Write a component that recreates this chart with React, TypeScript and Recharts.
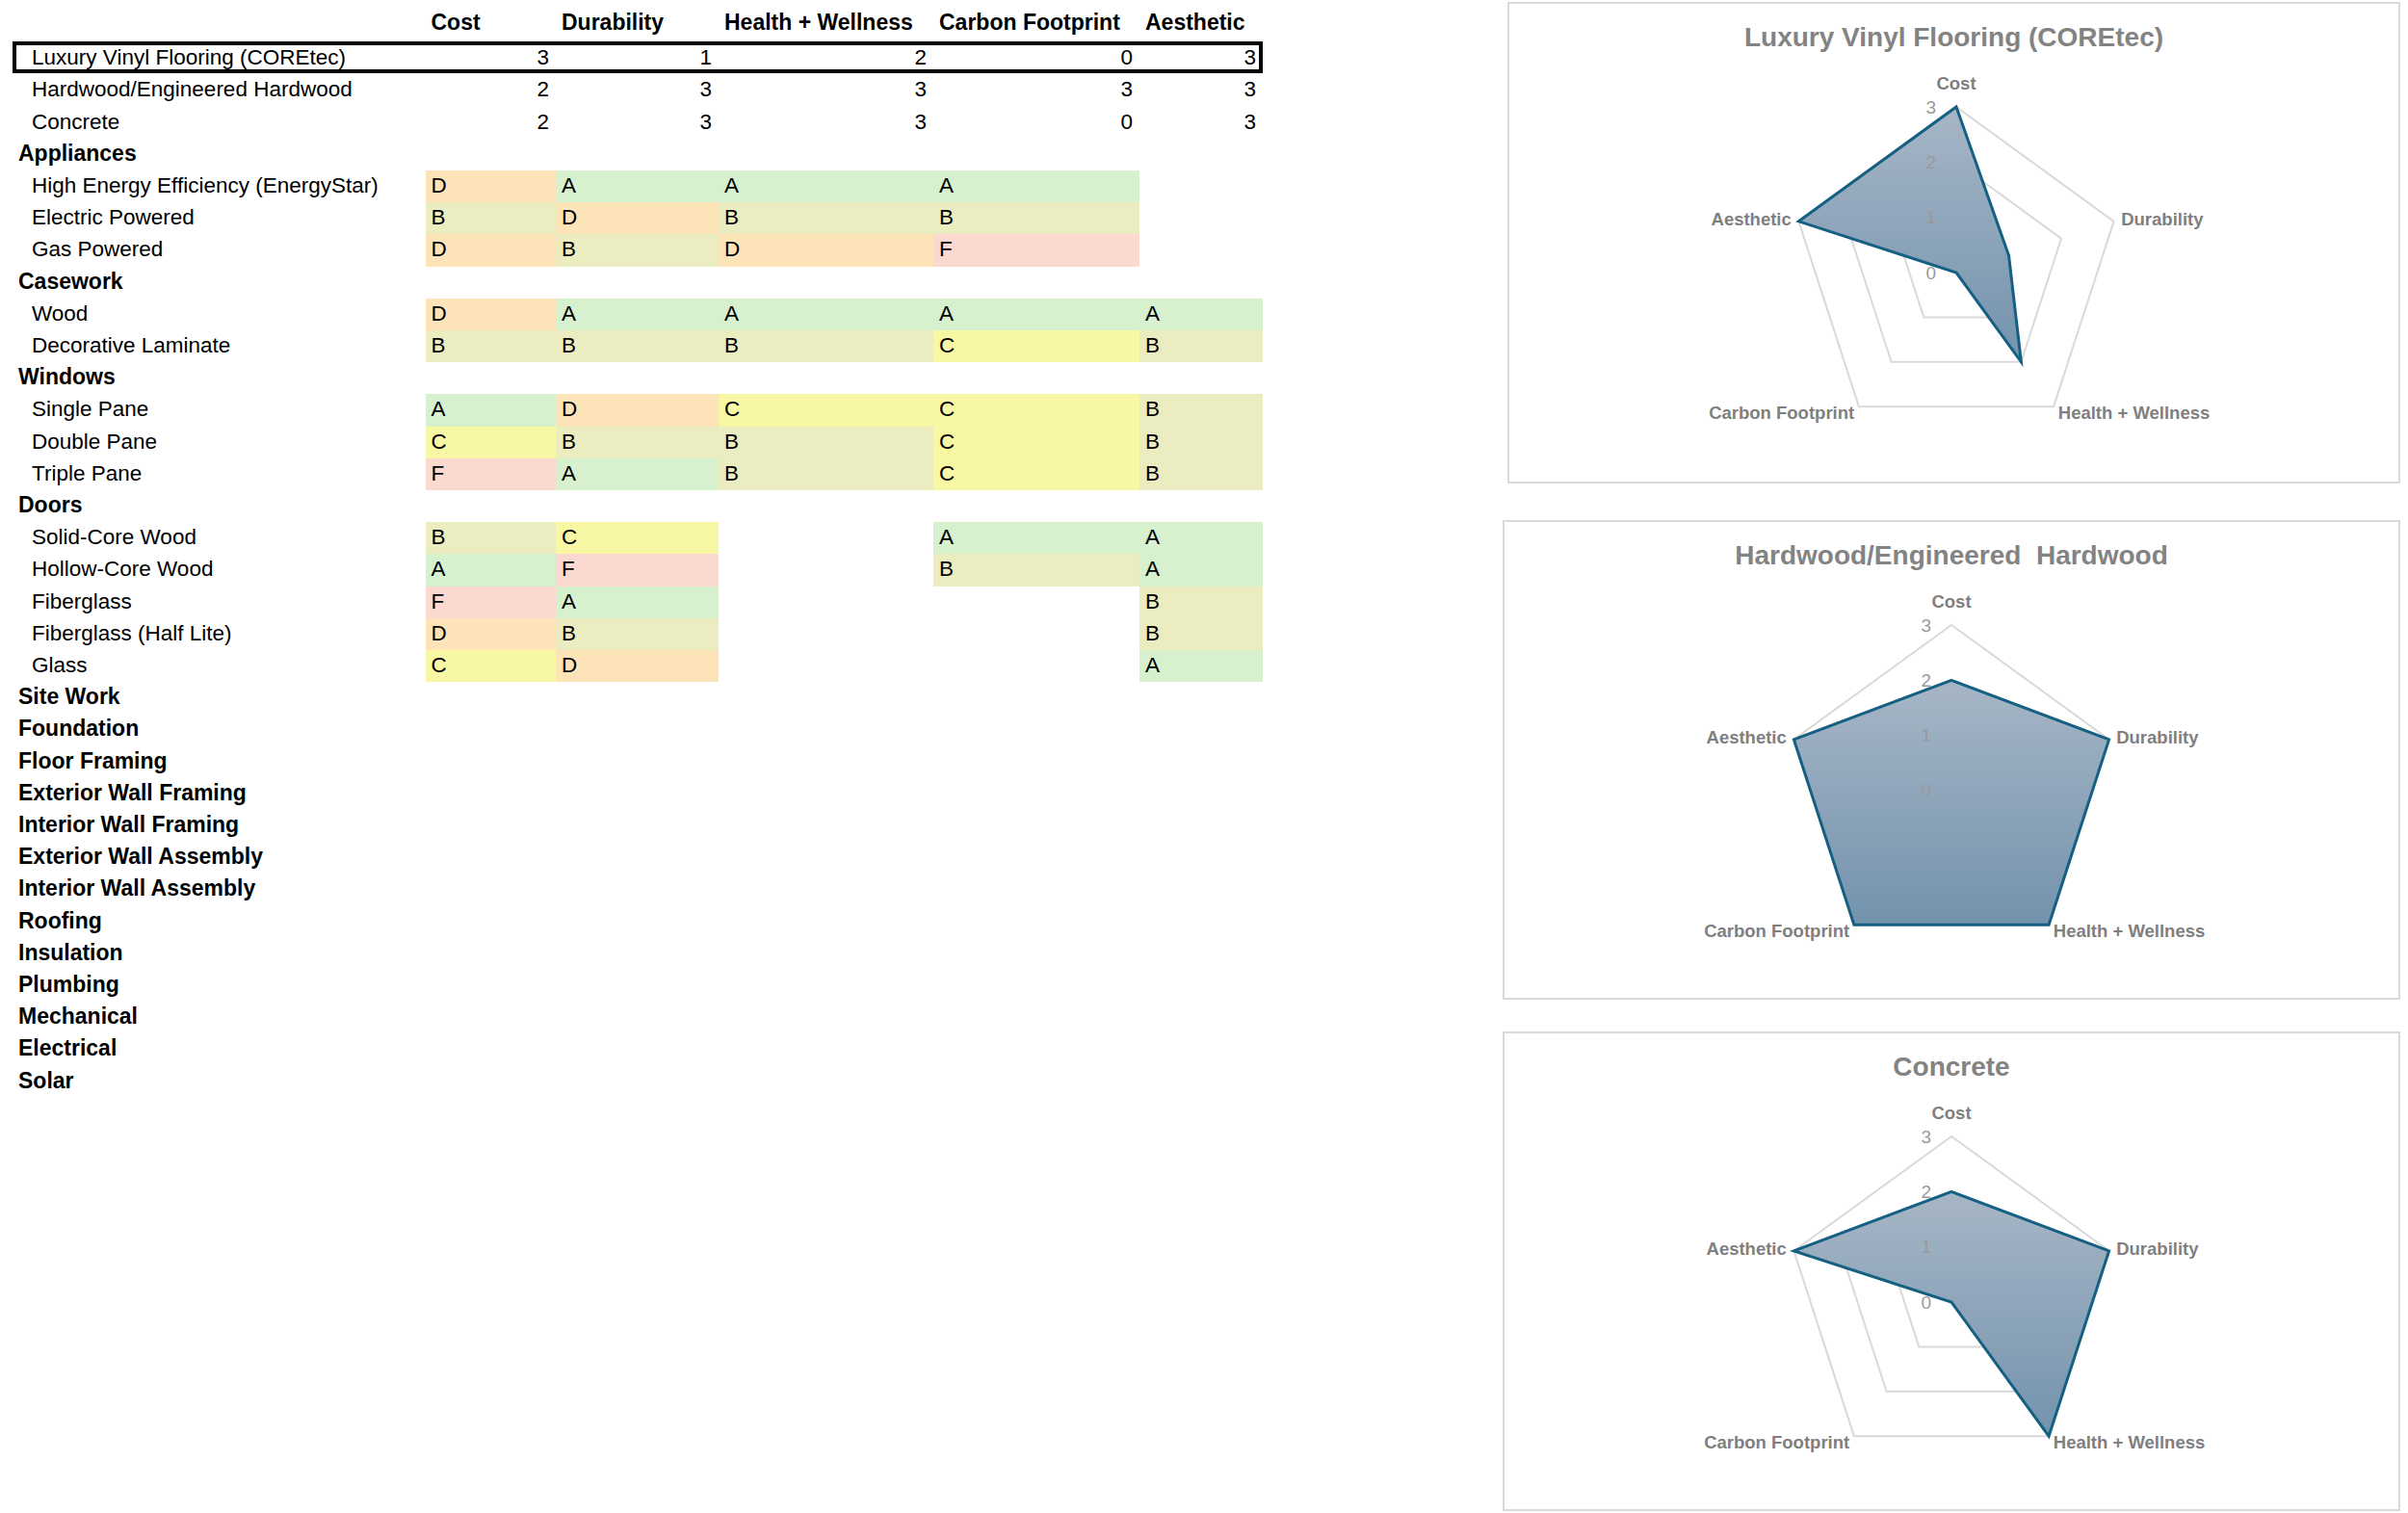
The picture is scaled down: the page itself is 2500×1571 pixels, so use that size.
import { RadarChart, Radar, PolarGrid, PolarAngleAxis, PolarRadiusAxis } from 'recharts';

// criteria shared by the table columns and the radar axes
const criteria = ['Cost', 'Durability', 'Health + Wellness', 'Carbon Footprint', 'Aesthetic'];

const flooringNames = ['Luxury Vinyl Flooring (COREtec)', 'Hardwood/Engineered Hardwood', 'Concrete'];
const lvfScores = [3, 1, 2, 0, 3];
const hardwoodScores = [2, 3, 3, 3, 3];
const concreteScores = [2, 3, 3, 0, 3];
const flooringScores = [lvfScores, hardwoodScores, concreteScores];

const chartTitles = ['Luxury Vinyl Flooring (COREtec)', 'Hardwood/Engineered  Hardwood', 'Concrete'];

const applianceItems = ['High Energy Efficiency (EnergyStar)', 'Electric Powered', 'Gas Powered'];
const applianceGrades = [
  ['D', 'A', 'A', 'A', ''],
  ['B', 'D', 'B', 'B', ''],
  ['D', 'B', 'D', 'F', ''],
];

const caseworkItems = ['Wood', 'Decorative Laminate'];
const caseworkGrades = [
  ['D', 'A', 'A', 'A', 'A'],
  ['B', 'B', 'B', 'C', 'B'],
];

const windowItems = ['Single Pane', 'Double Pane', 'Triple Pane'];
const windowGrades = [
  ['A', 'D', 'C', 'C', 'B'],
  ['C', 'B', 'B', 'C', 'B'],
  ['F', 'A', 'B', 'C', 'B'],
];

const doorItems = ['Solid-Core Wood', 'Hollow-Core Wood', 'Fiberglass', 'Fiberglass (Half Lite)', 'Glass'];
const doorGrades = [
  ['B', 'C', '', 'A', 'A'],
  ['A', 'F', '', 'B', 'A'],
  ['F', 'A', '', '', 'B'],
  ['D', 'B', '', '', 'B'],
  ['C', 'D', '', '', 'A'],
];

const emptyGroups = [
  'Site Work', 'Foundation', 'Floor Framing', 'Exterior Wall Framing', 'Interior Wall Framing',
  'Exterior Wall Assembly', 'Interior Wall Assembly', 'Roofing', 'Insulation', 'Plumbing',
  'Mechanical', 'Electrical', 'Solar',
];

const gradeColors: Record<string, string> = {
  A: '#d7f1cf',
  B: '#ebedc1',
  C: '#f8f7a3',
  D: '#fde3b8',
  F: '#fbd9d0',
};

const FONT = '"Liberation Sans", Arial, sans-serif';
const ROW_TOP = 10;
const ROW_H = 33.2;
const COL_X = [441.5, 577, 746, 969, 1183, 1311];

type Row =
  | { kind: 'score'; label: string; values: number[] }
  | { kind: 'group'; label: string }
  | { kind: 'item'; label: string; grades: string[] };

function buildRows(): Row[] {
  const rows: Row[] = [];
  flooringNames.forEach((n, i) => rows.push({ kind: 'score', label: n, values: flooringScores[i] }));
  const groups: [string, string[], string[][]][] = [
    ['Appliances', applianceItems, applianceGrades],
    ['Casework', caseworkItems, caseworkGrades],
    ['Windows', windowItems, windowGrades],
    ['Doors', doorItems, doorGrades],
  ];
  groups.forEach(([name, items, grades]) => {
    rows.push({ kind: 'group', label: name });
    items.forEach((it, i) => rows.push({ kind: 'item', label: it, grades: grades[i] }));
  });
  emptyGroups.forEach((g) => rows.push({ kind: 'group', label: g }));
  return rows;
}

function Table() {
  const rows = buildRows();
  return (
    <div style={{ position: 'absolute', left: 0, top: 0, fontFamily: FONT, color: '#000' }}>
      {criteria.map((c, j) => (
        <div
          key={c}
          style={{ position: 'absolute', left: COL_X[j] + 6, top: 3, height: 40, lineHeight: '40px', fontSize: 23, fontWeight: 'bold', whiteSpace: 'nowrap' }}
        >
          {c}
        </div>
      ))}
      {rows.map((r, idx) => {
        const top = ROW_TOP + ROW_H * (idx + 1);
        const cellTop = top + 1;
        const base = { position: 'absolute' as const, top, height: ROW_H, lineHeight: `${ROW_H}px`, whiteSpace: 'nowrap' as const };
        if (r.kind === 'group') {
          return (
            <div key={idx} style={{ ...base, left: 19, fontSize: 23, fontWeight: 'bold' }}>
              {r.label}
            </div>
          );
        }
        return (
          <div key={idx}>
            {r.kind === 'item' &&
              r.grades.map((g, j) =>
                g ? (
                  <div
                    key={j}
                    style={{ ...base, top: cellTop, left: COL_X[j], width: COL_X[j + 1] - COL_X[j], background: gradeColors[g], paddingLeft: 6, boxSizing: 'border-box', fontSize: 22.5, lineHeight: `${ROW_H - 2}px` }}
                  >
                    {g}
                  </div>
                ) : null
              )}
            {r.kind === 'score' &&
              r.values.map((v, j) => (
                <div
                  key={j}
                  style={{ ...base, left: COL_X[j], width: COL_X[j + 1] - COL_X[j], textAlign: 'right', paddingRight: 7, boxSizing: 'border-box', fontSize: 22.5 }}
                >
                  {v}
                </div>
              ))}
            <div style={{ ...base, left: 33, fontSize: 22.5 }}>{r.label}</div>
          </div>
        );
      })}
      <div
        style={{ position: 'absolute', left: 13, top: 43, width: 1298, height: 33, border: '4px solid #000', boxSizing: 'border-box' }}
      />
    </div>
  );
}

function AngleTick(props: any) {
  const { x, y, textAnchor, payload } = props;
  const top = textAnchor === 'middle';
  return (
    <text
      x={x}
      y={top ? y - 17 : y}
      textAnchor={textAnchor}
      dominantBaseline="central"
      fill="#7f7f7f"
      fontSize={18.5}
      fontWeight="bold"
      fontFamily={FONT}
    >
      {payload.value}
    </text>
  );
}

function RadiusTick(props: any) {
  const { x, y, payload } = props;
  return (
    <text x={x - 21} y={y} textAnchor="end" dominantBaseline="central" fill="#9a9a9a" fontSize={19} fontFamily={FONT}>
      {payload.value}
    </text>
  );
}

const frames = [
  { left: 1565, top: 2, width: 927, height: 500 },
  { left: 1560, top: 540, width: 932, height: 498 },
  { left: 1560, top: 1071, width: 932, height: 498 },
];

function FlooringRadar({ index }: { index: number }) {
  const f = frames[index];
  const data = criteria.map((c, i) => ({ axis: c, value: flooringScores[index][i] }));
  const gid = `fill${index}`;
  const w = f.width - 4;
  const h = f.height - 4;
  return (
    <div
      style={{ position: 'absolute', left: f.left, top: f.top, width: f.width, height: f.height, border: '2px solid #d9d9d9', boxSizing: 'border-box', background: '#fff' }}
    >
      <div
        style={{ position: 'absolute', left: 0, top: 15, width: '100%', textAlign: 'center', fontFamily: FONT, fontWeight: 'bold', fontSize: 28, color: '#838383', lineHeight: '40px', whiteSpace: 'pre' }}
      >
        {chartTitles[index]}
      </div>
      <div style={{ position: 'absolute', left: 0, top: 0 }}>
        <RadarChart width={w} height={h} data={data} cx={464} cy={279} outerRadius={172} startAngle={90} endAngle={-270}>
          <defs>
            <linearGradient id={gid} x1="0" y1="0" x2="0" y2="1">
              <stop offset="0%" stopColor="#a7b6c6" />
              <stop offset="100%" stopColor="#7393ad" />
            </linearGradient>
          </defs>
          <PolarGrid gridType="polygon" radialLines={false} stroke="#d9d9d9" strokeWidth={2} />
          <PolarAngleAxis dataKey="axis" tick={AngleTick} tickLine={false} axisLine={false} />
          <PolarRadiusAxis angle={90} domain={[0, 3]} tickCount={4} axisLine={false} tickLine={false} tick={false} />
          <Radar
            dataKey="value"
            stroke="#156082"
            strokeWidth={3}
            fill={`url(#${gid})`}
            fillOpacity={1}
            dot={false}
            isAnimationActive={false}
          />
        </RadarChart>
      </div>
      {/* value labels drawn in a second layer so they sit on top of the filled area */}
      <div style={{ position: 'absolute', left: 0, top: 0, pointerEvents: 'none' }}>
        <RadarChart width={w} height={h} data={data} cx={464} cy={279} outerRadius={172} startAngle={90} endAngle={-270}>
          <PolarAngleAxis dataKey="axis" tick={false} tickLine={false} axisLine={false} />
          <PolarRadiusAxis angle={90} domain={[0, 3]} tickCount={4} axisLine={false} tickLine={false} tick={RadiusTick} />
          <Radar dataKey="value" stroke="none" fill="none" dot={false} isAnimationActive={false} />
        </RadarChart>
      </div>
    </div>
  );
}

export default function App() {
  return (
    <div style={{ position: 'absolute', left: 0, top: 0, width: 2500, height: 1571, background: '#fff', overflow: 'hidden' }}>
      <Table />
      {chartTitles.map((t, i) => (
        <FlooringRadar key={t} index={i} />
      ))}
    </div>
  );
}
